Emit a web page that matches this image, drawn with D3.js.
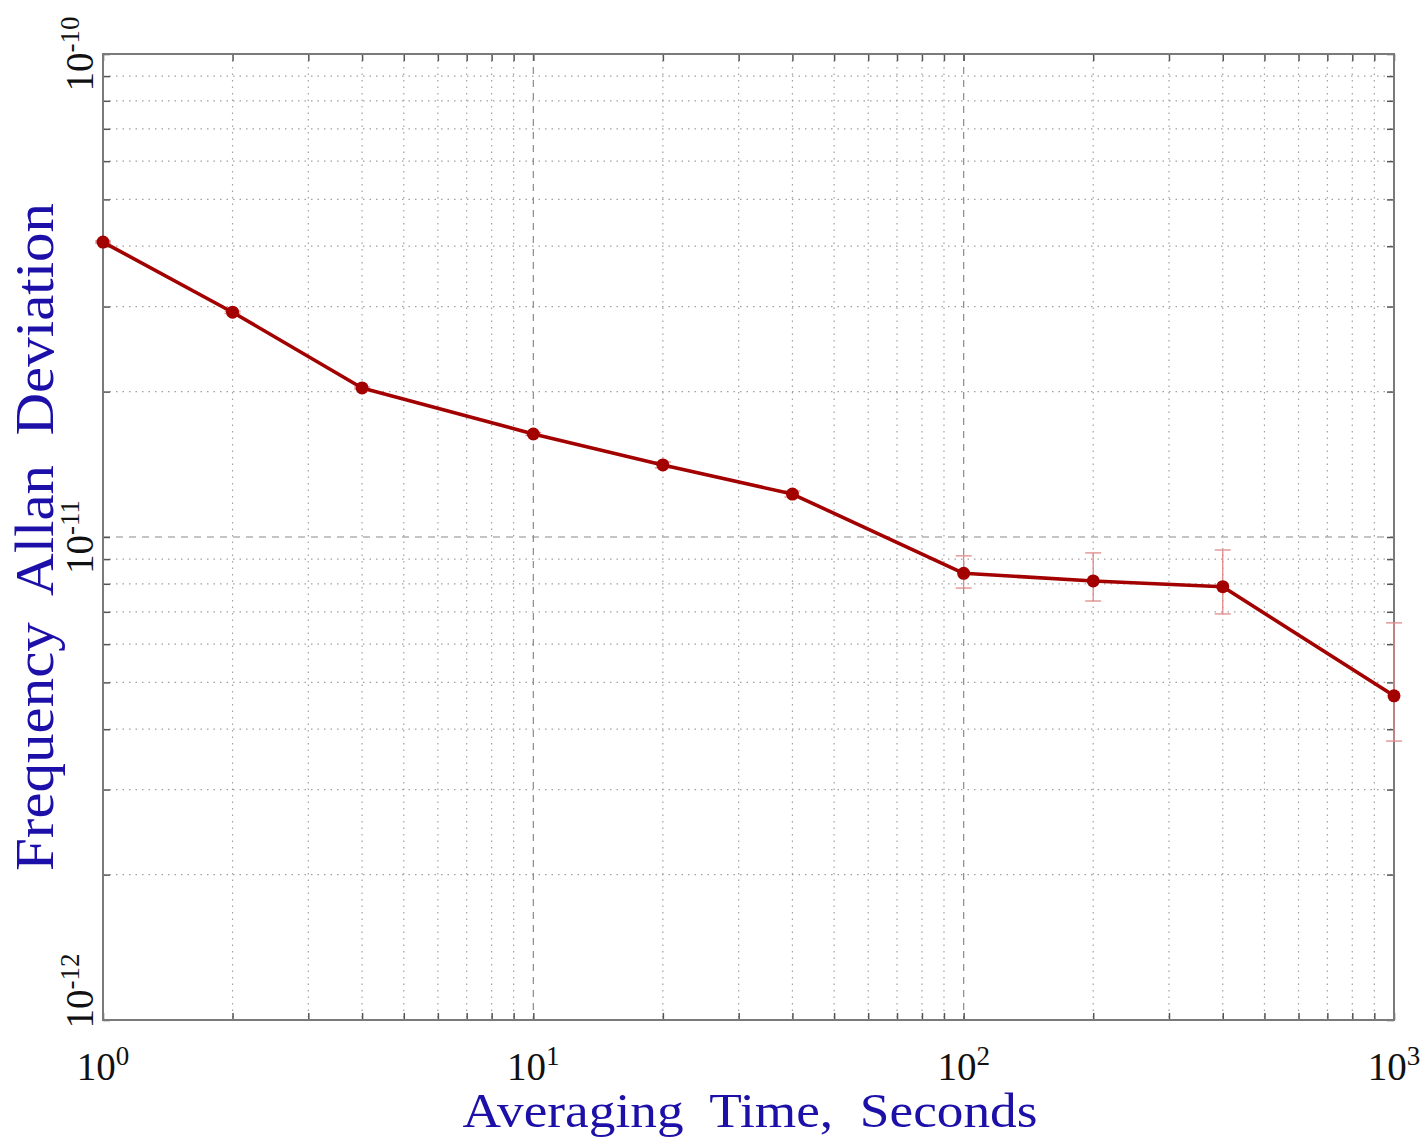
<!DOCTYPE html>
<html>
<head>
<meta charset="utf-8">
<script src="https://cdn.jsdelivr.net/npm/d3@7"></script>
<style>
  html, body { margin: 0; padding: 0; background: #fff; }
  svg { display: block; }
  text { font-family: "Liberation Serif", "DejaVu Serif", serif; white-space: pre; }
</style>
</head>
<body>
<svg id="chart" width="1428" height="1145"></svg>
<script>
// Averaging time (s) and frequency Allan deviation
const tau = [1, 2, 4, 10, 20, 40, 100, 200, 400, 1000];
const adev = [4.08e-11, 2.92e-11, 2.035e-11, 1.634e-11, 1.41e-11, 1.227e-11, 8.41e-12, 8.11e-12, 7.89e-12, 4.69e-12];
// Error bar bounds (upper / lower)
const errHigh = [4.10e-11, 2.935e-11, 2.045e-11, 1.645e-11, 1.43e-11, 1.245e-11, 9.14e-12, 9.27e-12, 9.40e-12, 6.64e-12];
const errLow  = [4.06e-11, 2.905e-11, 2.025e-11, 1.623e-11, 1.39e-11, 1.21e-11, 7.84e-12, 7.37e-12, 6.93e-12, 3.78e-12];

const xDecades = [1, 10, 100, 1000];
const yDecades = [1e-12, 1e-11, 1e-10];
const xExponents = ["0", "1", "2", "3"];
const yExponents = ["-12", "-11", "-10"];

const xTitle = "Averaging  Time,  Seconds";
const yTitle = "Frequency  Allan  Deviation";

const svg = d3.select("#chart");
const L = 103, R = 1394, T = 54, B = 1020;

const x = d3.scaleLog().domain([1, 1000]).range([L, R]);
const y = d3.scaleLog().domain([1e-12, 1e-10]).range([B, T]);

// minor positions within each decade
const xMinor = [];
for (let d = 1; d < 1000; d *= 10) for (let k = 2; k <= 9; k++) xMinor.push(d * k);
const yMinor = [];
for (let d = 1e-12; d < 1e-10 * 0.99; d *= 10) for (let k = 2; k <= 9; k++) yMinor.push(d * k);

const grid = svg.append("g");
// dotted minor grid
grid.selectAll("line.vmin").data(xMinor).enter().append("line")
  .attr("x1", d => x(d)).attr("x2", d => x(d)).attr("y1", T).attr("y2", B)
  .attr("stroke", "#a0a0a0").attr("stroke-width", 1.2).attr("stroke-dasharray", "1.5,5");
grid.selectAll("line.hmin").data(yMinor).enter().append("line")
  .attr("y1", d => y(d)).attr("y2", d => y(d)).attr("x1", L).attr("x2", R)
  .attr("stroke", "#a0a0a0").attr("stroke-width", 1.2).attr("stroke-dasharray", "1.5,5");
// dashed decade grid
grid.selectAll("line.vmaj").data(xDecades.slice(1, -1)).enter().append("line")
  .attr("x1", d => x(d)).attr("x2", d => x(d)).attr("y1", T).attr("y2", B)
  .attr("stroke", "#8a8a8a").attr("stroke-width", 1.2).attr("stroke-dasharray", "7,6");
grid.selectAll("line.hmaj").data(yDecades.slice(1, -1)).enter().append("line")
  .attr("y1", d => y(d)).attr("y2", d => y(d)).attr("x1", L).attr("x2", R)
  .attr("stroke", "#8a8a8a").attr("stroke-width", 1.2).attr("stroke-dasharray", "7,6");

// axes with inward ticks on all four sides
const tickColor = "#555";
function styleAxis(g) {
  g.select(".domain").remove();
  g.selectAll(".tick line").attr("stroke", tickColor).attr("stroke-width", 1.5);
  g.selectAll(".tick text").remove();
}
const xTicks = xDecades.concat(xMinor);
const yTicks = yDecades.concat(yMinor);
svg.append("g").attr("transform", `translate(0,${B})`)
  .call(d3.axisBottom(x).tickValues(xTicks).tickSizeInner(-7).tickSizeOuter(0)).call(styleAxis);
svg.append("g").attr("transform", `translate(0,${T})`)
  .call(d3.axisTop(x).tickValues(xTicks).tickSizeInner(-7).tickSizeOuter(0)).call(styleAxis);
svg.append("g").attr("transform", `translate(${L},0)`)
  .call(d3.axisLeft(y).tickValues(yTicks).tickSizeInner(-7).tickSizeOuter(0)).call(styleAxis);
svg.append("g").attr("transform", `translate(${R},0)`)
  .call(d3.axisRight(y).tickValues(yTicks).tickSizeInner(-7).tickSizeOuter(0)).call(styleAxis);

// frame
svg.append("rect").attr("x", L).attr("y", T).attr("width", R - L).attr("height", B - T)
  .attr("fill", "none").attr("stroke", "#7a7a7a").attr("stroke-width", 2);

// tick labels on the x axis
const xl = svg.append("g").selectAll("text").data(xDecades).enter().append("text")
  .attr("x", d => x(d)).attr("y", 1080).attr("text-anchor", "middle")
  .attr("fill", "#111").attr("font-size", 39);
xl.append("tspan").text("10");
xl.append("tspan").attr("dy", -15).attr("font-size", 27).text((d, i) => xExponents[i]);

// tick labels on the y axis (rotated)
const yl = svg.append("g").selectAll("text").data(yDecades).enter().append("text")
  .attr("transform", d => `translate(93,${Math.min(y(d), 991)}) rotate(-90)`)
  .attr("text-anchor", "middle").attr("fill", "#111").attr("font-size", 39);
yl.append("tspan").text("10");
yl.append("tspan").attr("dy", -14).attr("font-size", 27).text((d, i) => yExponents[i]);

// error bars
const idx = d3.range(tau.length);
const eb = svg.append("g").attr("stroke", "#e08a8a").attr("stroke-width", 1.3);
eb.selectAll("line.v").data(idx).enter().append("line")
  .attr("x1", i => x(tau[i])).attr("x2", i => x(tau[i]))
  .attr("y1", i => y(errHigh[i])).attr("y2", i => y(errLow[i]));
eb.selectAll("line.t").data(idx).enter().append("line")
  .attr("x1", i => x(tau[i]) - 8).attr("x2", i => x(tau[i]) + 8)
  .attr("y1", i => y(errHigh[i])).attr("y2", i => y(errHigh[i]));
eb.selectAll("line.b").data(idx).enter().append("line")
  .attr("x1", i => x(tau[i]) - 8).attr("x2", i => x(tau[i]) + 8)
  .attr("y1", i => y(errLow[i])).attr("y2", i => y(errLow[i]));

// data line and markers
const line = d3.line().x(i => x(tau[i])).y(i => y(adev[i]));
svg.append("path").datum(idx).attr("d", line)
  .attr("fill", "none").attr("stroke", "#a30000").attr("stroke-width", 3.6)
  .attr("stroke-linejoin", "round");
svg.append("g").selectAll("circle").data(idx).enter().append("circle")
  .attr("cx", i => x(tau[i])).attr("cy", i => y(adev[i])).attr("r", 6.5)
  .attr("fill", "#a30000");

// axis titles
svg.append("text").attr("x", 750).attr("y", 1127).attr("text-anchor", "middle")
  .attr("fill", "#1c10a8").attr("font-size", 48)
  .attr("textLength", 575).attr("lengthAdjust", "spacingAndGlyphs").text(xTitle);
svg.append("text").attr("transform", "translate(53,537) rotate(-90)")
  .attr("text-anchor", "middle").attr("fill", "#1c10a8").attr("font-size", 54)
  .attr("textLength", 668).attr("lengthAdjust", "spacingAndGlyphs").text(yTitle);
</script>
</body>
</html>
